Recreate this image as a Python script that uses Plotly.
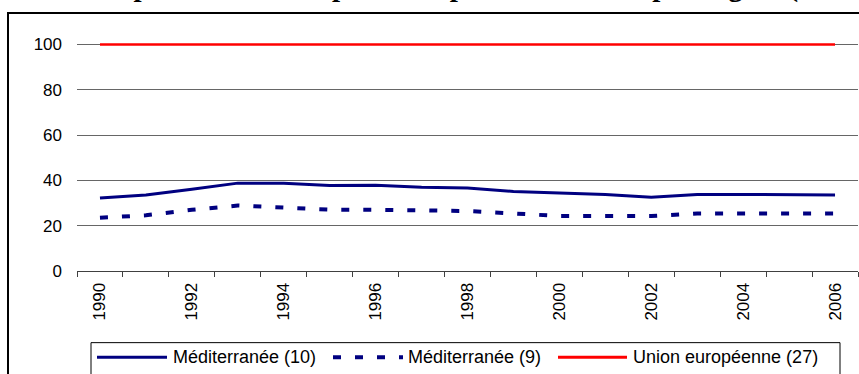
import plotly.graph_objects as go

# ---- data ----
years = [str(y) for y in range(1990, 2007)]
year_labels = [y if int(y) % 2 == 0 else "" for y in years]
med10 = [32.2, 33.6, 36.1, 38.8, 38.8, 37.7, 37.9, 37.0, 36.6, 35.1, 34.4, 33.8, 32.6, 33.8, 33.8, 33.8, 33.6]
med9 = [23.5, 24.6, 27.0, 28.9, 28.0, 27.1, 27.0, 26.7, 26.5, 25.4, 24.3, 24.3, 24.3, 25.4, 25.4, 25.4, 25.4]
ue27 = [100, 100, 100, 100, 100, 100, 100, 100, 100, 100, 100, 100, 100, 100, 100, 100, 100]
series_names = ["Méditerranée (10)", "Méditerranée (9)", "Union européenne (27)"]
title_text = "PIB par habitant en parité de pouvoir d'achat par région (UE27 = 100)"

# ---- layout geometry (pixels) ----
W, H = 859, 374
YMAX = 102
ML, MR, MB = 77, 1, 103
MT = (H - MB) - 226 * YMAX / 100
PW, PH = W - ML - MR, H - MT - MB

def px(x):
    return (x - ML) / PW

def py(y):
    return (H - MB - y) / PH

FONT = "Liberation Sans, Arial, sans-serif"
NAVY = "#000080"
RED = "#FF0000"

fig = go.Figure()
fig.add_trace(go.Scatter(x=years, y=med10, mode="lines", name=series_names[0],
                         line=dict(color=NAVY, width=3), showlegend=False))
fig.add_trace(go.Scatter(x=years, y=med9, mode="lines", name=series_names[1],
                         line=dict(color=NAVY, width=4, dash="8px,14px"), showlegend=False))
fig.add_trace(go.Scatter(x=years, y=ue27, mode="lines", name=series_names[2],
                         line=dict(color=RED, width=2.5), showlegend=False))

shapes = []
annotations = []

# outer chart frame
shapes.append(dict(type="rect", xref="paper", yref="paper",
                   x0=px(8), x1=px(870), y0=py(390), y1=py(13.5),
                   line=dict(color="black", width=2), layer="below"))

# manual legend
shapes.append(dict(type="rect", xref="paper", yref="paper",
                   x0=px(91), x1=px(840), y0=py(385), y1=py(342.5),
                   line=dict(color="black", width=1)))
leg_y = 357
leg_items = [
    (97, 167, 171, dict(color=NAVY, width=3)),
    (333, 403, 406, dict(color=NAVY, width=4, dash="8px,14px")),
    (558, 627, 631, dict(color=RED, width=3)),
]
for (x0, x1, tx, ln), name in zip(leg_items, series_names):
    shapes.append(dict(type="line", xref="paper", yref="paper",
                       x0=px(x0), x1=px(x1), y0=py(leg_y), y1=py(leg_y), line=ln))
    annotations.append(dict(text=name, xref="paper", yref="paper", x=px(tx), y=py(leg_y),
                            xanchor="left", yanchor="middle", showarrow=False,
                            font=dict(family=FONT, size=18, color="black")))

# clipped title
annotations.append(dict(text="<b>" + title_text + "</b>", xref="paper", yref="paper",
                        x=px(76), y=py(5.5), xanchor="left", yanchor="bottom", showarrow=False,
                        font=dict(family="Liberation Serif, Times New Roman, serif", size=29, color="black")))

fig.update_layout(
    width=W, height=H,
    margin=dict(l=ML, r=MR, t=MT, b=MB),
    paper_bgcolor="white", plot_bgcolor="white",
    shapes=shapes, annotations=annotations,
    font=dict(family=FONT, size=17, color="black"),
    xaxis=dict(type="category", range=[-0.5, 16.5], tickmode="array",
               tickvals=years, ticktext=year_labels, tickson="boundaries",
               ticks="outside", ticklen=5, tickcolor="#404040", tickwidth=1,
               tickangle=-90, showline=True, linecolor="#404040", linewidth=1,
               showgrid=False, zeroline=False, ticklabelstandoff=4,
               tickfont=dict(family=FONT, size=17, color="black")),
    yaxis=dict(range=[0, YMAX], tickmode="array", tickvals=[0, 20, 40, 60, 80, 100],
               showgrid=True, gridcolor="#666666",
               gridwidth=1, zeroline=False, showline=False, ticks="",
               ticklabelstandoff=14,
               tickfont=dict(family=FONT, size=17, color="black")),
)

fig.write_html("out.html")
